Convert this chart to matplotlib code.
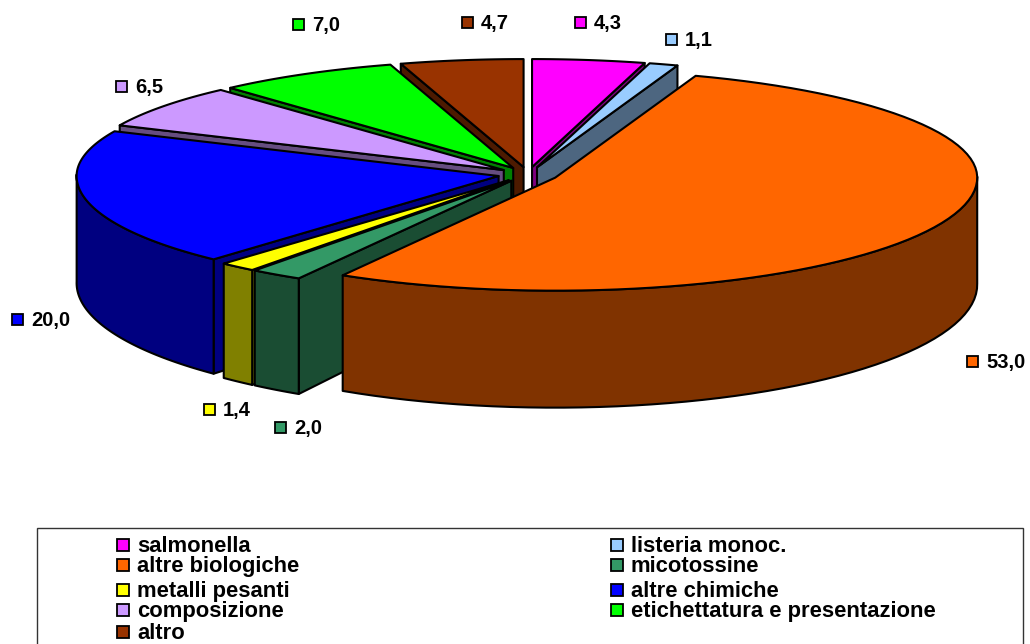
import numpy as np
import matplotlib
matplotlib.use("Agg")
import matplotlib.pyplot as plt
from matplotlib.patches import Polygon, Rectangle

plt.rcParams['font.family'] = ['Liberation Sans', 'DejaVu Sans']

# --- dati ---
categorie = ["salmonella", "listeria monoc.", "altre biologiche", "micotossine", "metalli pesanti",
             "altre chimiche", "composizione", "etichettatura e presentazione", "altro"]
valori = [4.3, 1.1, 53.0, 2.0, 1.4, 20.0, 6.5, 7.0, 4.7]
colori = ["#FF00FF", "#99CCFF", "#FF6600", "#339966", "#FFFF00", "#0000FF", "#CC99FF", "#00FF00", "#993300"]
colori_lato = ["#800080", "#4D6680", "#803300", "#1A4D33", "#808000", "#000080", "#664D80", "#008000", "#4D1A00"]
etichette_x = [580, 671, 972, 280, 209, 17, 121, 298, 467]
etichette_y = [22, 39, 361, 427, 409, 319, 86, 24, 22]

# --- geometria della torta (pixel) ---
CX, CY = 528, 174.5
A = 422
B_DIETRO, B_AVANTI = 108, 113
ESPLOSO_X, ESPLOSO_Y = 30, 7.5
LW = 1.5


def spessore(t):
    return 107 - 10 * np.cos(t)


def punto_bordo(t, ax0, ay0):
    b = np.where(np.cos(t) > 0, B_DIETRO, B_AVANTI)
    return ax0 + A * np.sin(t), ay0 - b * np.cos(t)


fig = plt.figure(figsize=(10.3, 6.44), dpi=100)
ax = fig.add_axes([0, 0, 1, 1])
ax.set_xlim(0, 1030)
ax.set_ylim(644, 0)
ax.axis("off")

# angoli delle fette, in senso orario dalle ore 12
bordi = np.cumsum([0] + valori) / sum(valori) * 2 * np.pi
fette = []
for i in range(len(valori)):
    t = np.linspace(bordi[i], bordi[i + 1], 80)
    mid = (bordi[i] + bordi[i + 1]) / 2
    x0 = CX + ESPLOSO_X * np.sin(mid)
    y0 = CY - ESPLOSO_Y * np.cos(mid)
    xb, yb = punto_bordo(t, x0, y0)
    fette.append((yb.max(), i, t, x0, y0, xb, yb))

# si disegna da dietro in avanti
fette.sort(key=lambda f: f[0])
for n, (_, i, t, x0, y0, xb, yb) in enumerate(fette):
    z = 2 + n
    d = spessore(t)
    d0 = spessore(np.array(np.pi / 2))
    # pareti radiali, solo quelle rivolte verso di noi
    for k, visibile in ((0, np.sin(t[0]) < 0), (-1, np.sin(t[-1]) > 0)):
        if visibile:
            ax.add_patch(Polygon([(x0, y0), (xb[k], yb[k]), (xb[k], yb[k] + d[k]), (x0, y0 + d0)],
                                 fc=colori_lato[i], ec="black", lw=LW, zorder=z, joinstyle="round"))
    # parete esterna, solo dove guarda verso di noi
    davanti = np.cos(t) < 0.02
    if davanti.any():
        xa, ya, da = xb[davanti], yb[davanti], d[davanti]
        pts = np.column_stack([np.r_[xa, xa[::-1]], np.r_[ya, (ya + da)[::-1]]])
        ax.add_patch(Polygon(pts, fc=colori_lato[i], ec="black", lw=LW, zorder=z, joinstyle="round"))
    # faccia superiore
    pts = np.column_stack([np.r_[x0, xb], np.r_[y0, yb]])
    ax.add_patch(Polygon(pts, fc=colori[i], ec="black", lw=LW, zorder=z, joinstyle="round"))

# etichette dei valori
for i, v in enumerate(valori):
    x, y = etichette_x[i], etichette_y[i]
    ax.add_patch(Rectangle((x - 5.5, y - 5.5), 11, 11, fc=colori[i], ec="black", lw=1.3, zorder=30))
    ax.text(x + 14, y + 1.5, f"{v:.1f}".replace(".", ","), fontsize=14.5, fontweight="bold",
            va="center", ha="left", zorder=30)

# legenda: il bordo inferiore esce dall'immagine
ax.add_patch(Rectangle((37, 528), 986, 130, fc="white", ec="#333333", lw=1.0, zorder=1))
righe_y = [544.5, 565, 590, 610, 632]
for i, nome in enumerate(categorie):
    riga = righe_y[i // 2]
    x = 123 if i % 2 == 0 else 617
    ax.add_patch(Rectangle((x - 6, riga - 6), 12, 12, fc=colori[i], ec="black", lw=1.3, zorder=30))
    ax.text(x + 14, riga + 1.5, nome, fontsize=15.8, fontweight="bold", va="center", ha="left", zorder=30)

fig.savefig("out.png", dpi=100)
